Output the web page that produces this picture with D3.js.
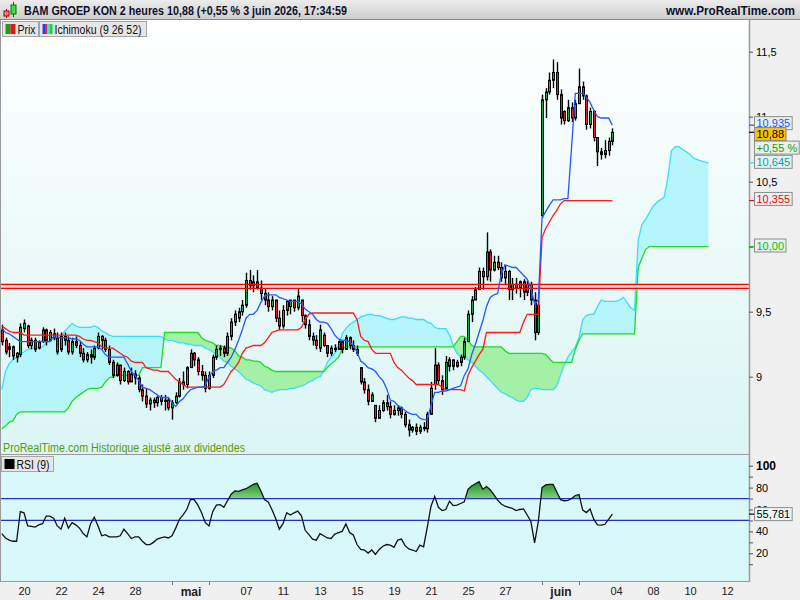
<!DOCTYPE html>
<html><head><meta charset="utf-8">
<script src="https://cdn.jsdelivr.net/npm/d3@7"></script>
<style>
html,body{margin:0;padding:0;background:#fff;}
svg{display:block;font-family:"Liberation Sans",Arial,sans-serif;}
</style></head><body>
<svg id="c" width="800" height="600"></svg>
<script>
// ---------- DATA ----------
const firstBar = -6;           // bar index (2h bars, 5 per day) of first bar, 0 = 20 April first bar
const opens = [
9.36,9.28,9.21,9.23,9.15,9.17,9.37,9.39,9.24,9.28,
9.22,9.27,9.36,9.28,9.33,9.30,9.21,9.31,9.28,9.19,
9.27,9.24,9.18,9.13,9.17,9.15,9.22,9.31,9.28,9.21,
9.11,9.01,9.09,8.97,9.04,8.96,9.02,8.99,8.90,8.85,
8.79,8.82,8.80,8.84,8.81,8.82,8.76,8.80,8.85,8.96,
8.94,9.07,9.18,9.13,9.04,9.01,8.91,9.01,9.15,9.21,
9.22,9.18,9.31,9.42,9.45,9.50,9.55,9.74,9.70,9.73,
9.68,9.64,9.59,9.54,9.59,9.45,9.39,9.51,9.54,9.59,
9.53,9.59,9.47,9.40,9.31,9.28,9.22,9.32,9.24,9.18,
9.22,9.21,9.27,9.21,9.30,9.24,9.21,9.07,8.96,8.90,
8.81,8.78,8.68,8.74,8.80,8.77,8.71,8.74,8.76,8.71,
8.63,8.59,8.61,8.58,8.61,8.60,8.71,8.94,9.09,8.97,
8.91,9.08,9.13,9.08,9.11,9.15,9.27,9.48,9.59,9.67,
9.81,9.77,9.96,9.82,9.88,9.84,9.76,9.81,9.67,9.71,
9.68,9.73,9.65,9.71,9.59,9.34,10.24,11.13,11.19,11.28,
11.34,11.17,11.04,10.97,11.07,10.99,11.10,11.23,11.16,10.94,
11.04,10.84,10.73,10.71,10.74,10.81];
const highs = [
9.40,9.30,9.26,9.24,9.19,9.41,9.44,9.40,9.30,9.30,
9.28,9.38,9.37,9.36,9.37,9.34,9.34,9.34,9.31,9.30,
9.31,9.27,9.22,9.19,9.21,9.24,9.34,9.32,9.30,9.24,
9.13,9.11,9.09,9.07,9.05,9.07,9.05,9.01,8.94,8.91,
8.84,8.84,8.85,8.86,8.86,8.84,8.82,8.88,8.99,9.04,
9.08,9.21,9.19,9.15,9.09,9.04,9.04,9.17,9.24,9.24,
9.24,9.34,9.45,9.51,9.53,9.59,9.80,9.82,9.78,9.82,
9.74,9.68,9.65,9.62,9.59,9.51,9.55,9.59,9.59,9.59,
9.68,9.59,9.48,9.44,9.34,9.32,9.40,9.34,9.24,9.24,
9.25,9.28,9.27,9.32,9.31,9.28,9.24,9.07,8.99,8.94,
8.88,8.78,8.78,8.82,8.86,8.81,8.78,8.78,8.77,8.73,
8.67,8.62,8.64,8.63,8.65,8.73,8.96,9.22,9.11,9.01,
9.16,9.15,9.13,9.13,9.17,9.30,9.51,9.62,9.69,9.84,
9.84,10.11,9.98,9.93,9.93,9.88,9.86,9.82,9.76,9.76,
9.74,9.75,9.74,9.73,9.65,9.59,11.17,11.22,11.34,11.44,
11.42,11.21,11.05,11.13,11.11,11.13,11.37,11.27,11.17,11.07,
11.05,10.84,10.76,10.82,10.84,10.91];
const lows = [
9.24,9.17,9.15,9.13,9.11,9.15,9.34,9.22,9.21,9.19,
9.21,9.26,9.24,9.27,9.28,9.17,9.19,9.24,9.17,9.17,
9.22,9.15,9.11,9.11,9.10,9.13,9.21,9.21,9.19,9.09,
8.99,9.00,8.94,8.96,8.94,8.96,8.94,8.88,8.81,8.76,
8.74,8.76,8.77,8.78,8.74,8.74,8.67,8.79,8.84,8.90,
8.91,9.07,9.08,9.01,8.97,8.88,8.90,8.99,9.13,9.16,
9.15,9.16,9.28,9.39,9.42,9.47,9.53,9.67,9.65,9.67,
9.59,9.55,9.50,9.51,9.42,9.36,9.37,9.47,9.48,9.50,
9.51,9.42,9.37,9.28,9.24,9.21,9.19,9.23,9.15,9.16,
9.19,9.21,9.18,9.21,9.21,9.19,9.16,8.94,8.87,8.78,
8.81,8.65,8.68,8.73,8.74,8.68,8.70,8.70,8.68,8.61,
8.54,8.57,8.55,8.56,8.58,8.57,8.71,8.90,8.94,8.86,
8.90,9.04,9.05,9.07,9.08,9.13,9.27,9.42,9.59,9.67,
9.67,9.74,9.73,9.81,9.82,9.73,9.71,9.59,9.59,9.64,
9.61,9.59,9.62,9.55,9.28,9.32,10.22,10.99,11.17,11.22,
11.13,10.94,10.94,10.96,10.96,10.97,11.10,11.13,10.90,10.91,
10.81,10.62,10.67,10.68,10.70,10.78];
const closes = [
9.27,9.19,9.23,9.16,9.18,9.38,9.41,9.24,9.28,9.21,
9.27,9.36,9.28,9.34,9.30,9.19,9.31,9.28,9.19,9.27,
9.24,9.18,9.13,9.17,9.15,9.22,9.31,9.28,9.21,9.11,
9.01,9.09,8.97,9.04,8.96,9.02,8.99,8.90,8.85,8.79,
8.82,8.80,8.84,8.81,8.82,8.76,8.80,8.85,8.96,8.94,
9.07,9.18,9.13,9.04,9.01,8.91,9.01,9.15,9.21,9.22,
9.18,9.31,9.42,9.48,9.50,9.55,9.74,9.70,9.73,9.68,
9.64,9.59,9.54,9.59,9.45,9.39,9.51,9.58,9.59,9.53,
9.62,9.47,9.40,9.31,9.28,9.24,9.36,9.24,9.18,9.22,
9.21,9.27,9.21,9.30,9.24,9.21,9.18,8.96,8.90,8.81,
8.86,8.68,8.74,8.80,8.77,8.71,8.74,8.76,8.71,8.63,
8.59,8.61,8.58,8.61,8.60,8.71,8.91,9.09,8.97,8.90,
9.11,9.13,9.08,9.11,9.15,9.27,9.48,9.59,9.67,9.81,
9.77,9.96,9.82,9.88,9.84,9.76,9.81,9.67,9.71,9.68,
9.73,9.65,9.71,9.59,9.34,9.55,11.13,11.19,11.28,11.34,
11.17,10.99,10.97,11.07,10.99,11.10,11.23,11.16,10.94,11.04,
10.84,10.73,10.71,10.74,10.81,10.88];
const tenkan = [
9.37,9.34,9.33,9.31,9.29,9.27,9.27,9.27,9.27,9.27,
9.27,9.27,9.27,9.27,9.31,9.30,9.30,9.30,9.30,9.29,
9.29,9.28,9.25,9.23,9.23,9.23,9.23,9.21,9.17,9.15,
9.15,9.15,9.15,9.15,9.10,9.04,9.01,8.97,8.92,8.91,
8.90,8.88,8.86,8.84,8.84,8.84,8.80,8.77,8.81,8.83,
8.87,8.90,8.91,8.92,8.92,8.93,9.00,9.04,9.05,9.07,
9.07,9.11,9.15,9.21,9.28,9.36,9.45,9.48,9.48,9.51,
9.57,9.62,9.63,9.63,9.63,9.61,9.60,9.59,9.58,9.58,
9.58,9.56,9.52,9.50,9.48,9.44,9.42,9.42,9.41,9.37,
9.32,9.29,9.28,9.28,9.27,9.24,9.19,9.12,9.10,9.07,
9.06,9.04,9.00,8.97,8.91,8.82,8.81,8.78,8.76,8.74,
8.72,8.71,8.71,8.68,8.67,8.67,8.78,8.88,8.88,8.89,
8.89,8.90,8.91,8.92,8.93,9.01,9.06,9.17,9.25,9.34,
9.43,9.54,9.61,9.63,9.64,9.79,9.86,9.85,9.84,9.84,
9.81,9.78,9.75,9.68,9.56,9.59,10.22,10.27,10.32,10.36,
10.36,10.36,10.37,10.37,10.77,11.18,11.18,11.18,11.15,11.11,
11.05,11.00,10.99,10.99,10.99,10.935];
const kijun = [
9.39,9.37,9.35,9.34,9.34,9.34,9.32,9.32,9.32,9.32,
9.32,9.32,9.32,9.32,9.32,9.32,9.32,9.32,9.32,9.32,
9.32,9.31,9.29,9.28,9.28,9.27,9.26,9.23,9.22,9.22,
9.22,9.20,9.18,9.16,9.15,9.12,9.11,9.11,9.11,9.07,
9.06,9.05,9.05,9.04,9.04,9.04,9.01,8.98,8.96,8.94,
8.92,8.92,8.92,8.92,8.92,8.92,8.92,8.92,8.92,8.92,
8.94,8.99,9.04,9.07,9.11,9.18,9.22,9.23,9.24,9.24,
9.24,9.26,9.30,9.34,9.35,9.36,9.36,9.36,9.36,9.36,
9.36,9.38,9.44,9.48,9.49,9.49,9.49,9.49,9.49,9.49,
9.49,9.49,9.49,9.49,9.49,9.49,9.44,9.31,9.28,9.27,
9.21,9.18,9.18,9.18,9.18,9.18,9.11,9.07,9.05,9.02,
8.99,8.97,8.94,8.94,8.94,8.94,8.94,8.94,8.94,8.92,
8.90,8.90,8.90,8.90,8.90,8.89,9.01,9.07,9.12,9.17,
9.21,9.34,9.34,9.34,9.34,9.34,9.34,9.34,9.34,9.34,
9.34,9.42,9.48,9.48,9.48,9.48,10.07,10.14,10.19,10.24,
10.28,10.33,10.355,10.355,10.355,10.355,10.355,10.355,10.355,10.355,
10.355,10.355,10.355,10.355,10.355,10.355];
const spanA = [
8.90,9.04,9.10,9.13,9.15,9.18,9.19,9.21,9.22,9.22,
9.23,9.23,9.26,9.28,9.29,9.30,9.31,9.35,9.38,9.41,
9.39,9.38,9.38,9.38,9.38,9.39,9.38,9.35,9.34,9.32,
9.31,9.31,9.31,9.31,9.31,9.31,9.31,9.31,9.31,9.31,
9.31,9.31,9.31,9.31,9.29,9.28,9.28,9.27,9.26,9.26,
9.25,9.25,9.24,9.24,9.24,9.22,9.21,9.19,9.17,9.15,
9.12,9.11,9.08,9.06,9.04,9.01,8.98,8.97,8.95,8.94,
8.93,8.90,8.89,8.88,8.89,8.90,8.90,8.90,8.91,8.91,
8.92,8.93,8.94,8.96,8.97,8.99,9.00,9.04,9.11,9.15,
9.18,9.24,9.33,9.37,9.40,9.42,9.44,9.46,9.47,9.48,
9.48,9.47,9.47,9.46,9.45,9.44,9.44,9.45,9.46,9.46,
9.45,9.45,9.44,9.44,9.44,9.42,9.41,9.38,9.37,9.37,
9.37,9.32,9.24,9.18,9.15,9.15,9.13,9.11,9.08,9.05,
9.03,9.00,8.97,8.94,8.91,8.88,8.87,8.85,8.84,8.82,
8.81,8.81,8.84,8.90,8.91,8.91,8.90,8.90,8.90,8.90,
8.93,9.01,9.09,9.15,9.19,9.23,9.30,9.44,9.47,9.48,
9.48,9.54,9.59,9.58,9.58,9.58,9.58,9.59,9.61,9.57,
9.53,9.51,10.05,10.17,10.21,10.26,10.31,10.34,10.36,10.38,
10.53,10.74,10.77,10.77,10.75,10.73,10.71,10.68,10.67,10.66,
10.65,10.645];
const spanB = [
8.60,8.62,8.65,8.66,8.71,8.73,8.73,8.73,8.73,8.73,
8.73,8.73,8.73,8.73,8.73,8.73,8.73,8.73,8.76,8.81,
8.84,8.86,8.88,8.90,8.91,8.91,8.91,8.92,8.96,8.99,
9.00,9.01,9.01,9.01,9.01,9.01,9.01,9.01,9.07,9.07,
9.07,9.07,9.07,9.07,9.34,9.34,9.34,9.34,9.34,9.34,
9.34,9.34,9.34,9.34,9.30,9.28,9.27,9.26,9.24,9.24,
9.23,9.23,9.22,9.20,9.16,9.15,9.13,9.13,9.12,9.12,
9.11,9.08,9.07,9.05,9.04,9.04,9.04,9.04,9.04,9.04,
9.04,9.04,9.04,9.04,9.04,9.04,9.04,9.04,9.07,9.10,
9.12,9.15,9.21,9.23,9.23,9.23,9.23,9.23,9.23,9.23,
9.23,9.23,9.23,9.23,9.23,9.23,9.23,9.23,9.23,9.23,
9.23,9.23,9.23,9.23,9.23,9.23,9.23,9.23,9.23,9.23,
9.23,9.23,9.23,9.27,9.31,9.31,9.28,9.24,9.23,9.23,
9.23,9.23,9.23,9.23,9.23,9.23,9.20,9.18,9.18,9.18,
9.18,9.18,9.18,9.18,9.18,9.18,9.18,9.17,9.14,9.11,
9.11,9.11,9.11,9.11,9.11,9.21,9.28,9.33,9.33,9.33,
9.33,9.33,9.33,9.33,9.33,9.33,9.33,9.33,9.33,9.33,
9.33,9.33,9.84,9.91,9.98,10.00,10.00,10.00,10.00,10.00,
10.00,10.00,10.00,10.00,10.00,10.00,10.00,10.00,10.00,10.00,
10.00,10.00];
const rsi = [
38,34,32,31,31,58,57,45,44.5,44,
46,47,54,54,52,45,42,52,43,48,
46,43,38,35,47,53,45,36,37,35,
35,35,36,42,38,33.5,35,35,31,28,
28,30,33,34,35,34,36,43,51,55,
60,69,69,64,57,48,45,58,64,64.5,
62,68,74,77,76.5,78,79,81,83,84,
77,69,67,60,52,42,47,57,55,57,
58.5,54,41,37,33,32,38,36,34,33.5,
37.5,38.8,40,47,39,36.7,28,23.5,23,20.2,
23,19,23.5,26.5,28,27.5,25.5,32,33,27,
24,23,21.6,27.5,26,44,63,72,62,59,
60,67.5,63.5,64,65.5,67,78.5,81.5,83.5,85.4,
78.5,81,78,73.5,68.5,65,63,62,61,59,
60,60.5,55,49,29.5,49,80,82.5,83,83,
76,69,68,68.3,70,72.8,73.7,59.5,57.2,60.5,
51,46,45.8,46.5,51,55.781];
const hLines = [9.71, 9.68];
const priceTicks = [9, 9.5, 10, 10.5, 11, 11.5];
const priceTickLabels = [9, 9.5, 10.5, 11, 11.5];   // 10 sits under the "10,00" value box
const rsiTicks = [10,20,30,40,50,60,70,80,90,100];
const rsiTickLabels = [20,40,60,80,100];
const rsiLevels = [70, 50];
const dayLabels = ["20","22","24","28","mai","07","11","13","15","19","21","25","27","juin","04","08","10","12"];
const dayIndex  = [0,2,4,6,9,12,14,16,18,20,22,24,26,29,32,34,36,38];
const minorDayIndex = [8,10,28,30];
const barsPerDay = 5;
const titleText = "BAM GROEP KON 2 heures 10,88 (+0,55 % 3 juin 2026, 17:34:59";
const pctText = "+0,55 %";

// ---------- SCALES ----------
const x = d3.scaleLinear().domain([0, 159]).range([24, 612.3]);
const y = d3.scaleLinear().domain([9, 11.5]).range([376.7, 51.7]);
const yR = d3.scaleLinear().domain([20, 100]).range([553.3, 465.7]);
const comma = s => s.replace('.', ',');

const svg = d3.select('#c');
const defs = svg.append('defs');
function vgrad(id, stops, attrs) {
  const g = defs.append('linearGradient').attr('id', id);
  Object.entries(attrs || {x1:0,y1:0,x2:0,y2:1}).forEach(([k,v]) => g.attr(k, v));
  stops.forEach(([o,c]) => g.append('stop').attr('offset', o).attr('stop-color', c));
}
vgrad('hdr', [['0%','#ececec'],['100%','#cdcdcd']]);
vgrad('bgMain', [['0%','#ffffff'],['100%','#dbf5f5']]);
vgrad('rsiFill', [['0%','#1c8a1c'],['100%','#7fd37f']],
      {gradientUnits:'userSpaceOnUse', x1:0, x2:0, y1:yR(86), y2:yR(70)});

// ---------- BACKGROUNDS ----------
svg.append('rect').attr('x',0).attr('y',0).attr('width',800).attr('height',19).attr('fill','url(#hdr)');
svg.append('line').attr('x1',0).attr('x2',800).attr('y1',19.5).attr('y2',19.5).attr('stroke','#8a8a8a');
svg.append('rect').attr('x',0).attr('y',20).attr('width',749).attr('height',434).attr('fill','url(#bgMain)');
svg.append('rect').attr('x',0).attr('y',455).attr('width',749).attr('height',126).attr('fill','#d8f8fa');
svg.append('rect').attr('x',749).attr('y',20).attr('width',51).attr('height',561).attr('fill','#f0f0f0');
svg.append('rect').attr('x',0).attr('y',581).attr('width',800).attr('height',19).attr('fill','#f0f0f0');

// ---------- CLIPS ----------
defs.append('clipPath').attr('id','clipMain').append('rect')
  .attr('x',1).attr('y',20).attr('width',748).attr('height',434);
defs.append('clipPath').attr('id','clipRsi').append('rect')
  .attr('x',1).attr('y',455).attr('width',748).attr('height',126);
const cloud = spanA.map((a,i) => ({k: i + firstBar, a: a, b: spanB[i]}));
defs.append('clipPath').attr('id','aboveB').append('path')
  .attr('d', d3.area().x(d => x(d.k)).y0(0).y1(d => y(d.b))(cloud));
defs.append('clipPath').attr('id','belowB').append('path')
  .attr('d', d3.area().x(d => x(d.k)).y0(d => y(d.b)).y1(600)(cloud));
defs.append('clipPath').attr('id','above70').append('rect')
  .attr('x',0).attr('y',455).attr('width',749).attr('height', yR(70) - 455);

// ---------- MAIN PANEL ----------
const main = svg.append('g').attr('clip-path','url(#clipMain)');
const cloudArea = d3.area().x(d => x(d.k)).y0(d => y(d.a)).y1(d => y(d.b));
main.append('g').attr('clip-path','url(#aboveB)').append('path')
  .attr('d', cloudArea(cloud)).attr('fill','#b6f5f9');
main.append('g').attr('clip-path','url(#belowB)').append('path')
  .attr('d', cloudArea(cloud)).attr('fill','#a3f0a6');
main.append('path').attr('d', d3.line().x(d => x(d.k)).y(d => y(d.a))(cloud))
  .attr('fill','none').attr('stroke','#3cdcff').attr('stroke-width',1.3);
main.append('path').attr('d', d3.line().x(d => x(d.k)).y(d => y(d.b))(cloud))
  .attr('fill','none').attr('stroke','#1fdc1f').attr('stroke-width',1.3);

// horizontal band
main.append('rect').attr('x',0).attr('width',749)
  .attr('y', y(d3.max(hLines))).attr('height', y(d3.min(hLines)) - y(d3.max(hLines)))
  .attr('fill','#f7cfcf').attr('opacity',0.85);

// candles
const bars = closes.map((c,i) => ({k: i + firstBar, o: opens[i], h: highs[i], l: lows[i], c: c}));
const cg = main.append('g');
cg.selectAll('line.w').data(bars).join('line').attr('class','w')
  .attr('x1', d => Math.round(x(d.k)) + 0.5).attr('x2', d => Math.round(x(d.k)) + 0.5)
  .attr('y1', d => y(d.h)).attr('y2', d => y(d.l))
  .attr('stroke','#000').attr('stroke-width',1.4);
cg.selectAll('rect.b').data(bars).join('rect').attr('class','b')
  .attr('x', d => Math.round(x(d.k)) - 0.5)
  .attr('width', 2)
  .attr('y', d => y(Math.max(d.o, d.c)))
  .attr('height', d => Math.max(1, Math.abs(y(d.o) - y(d.c))))
  .attr('fill', d => d.c >= d.o ? '#22a347' : '#e61e1e')
  .attr('stroke','#000').attr('stroke-width',1);

hLines.forEach(v => main.append('line').attr('x1',0).attr('x2',749)
  .attr('y1', y(v)).attr('y2', y(v)).attr('stroke','#ff0000').attr('stroke-width',1.3));

const lineK = d3.line().x(d => x(d[0])).y(d => y(d[1]));
main.append('path').attr('d', lineK(kijun.map((v,i) => [i + firstBar, v])))
  .attr('fill','none').attr('stroke','#ff1a1a').attr('stroke-width',1.3);
main.append('path').attr('d', lineK(tenkan.map((v,i) => [i + firstBar, v])))
  .attr('fill','none').attr('stroke','#2457ff').attr('stroke-width',1.3);

// footer note
svg.append('text').attr('x',3).attr('y',452).attr('font-size',12)
  .attr('fill','#5b9c08').attr('textLength',242).attr('lengthAdjust','spacingAndGlyphs')
  .text('ProRealTime.com  Historique ajusté aux dividendes');

// ---------- RSI PANEL ----------
const rsiPts = rsi.map((v,i) => ({k: i + firstBar, v: v}));
const rp = svg.append('g').attr('clip-path','url(#clipRsi)');
rp.append('g').attr('clip-path','url(#above70)').append('path')
  .attr('d', d3.area().x(d => x(d.k)).y0(yR(70)).y1(d => yR(d.v))(rsiPts))
  .attr('fill','url(#rsiFill)');
rsiLevels.forEach(v => rp.append('line').attr('x1',0).attr('x2',749)
  .attr('y1', yR(v)).attr('y2', yR(v)).attr('stroke','#2630c4').attr('stroke-width',1.3));
rp.append('path').attr('d', d3.line().x(d => x(d.k)).y(d => yR(d.v))(rsiPts))
  .attr('fill','none').attr('stroke','#111').attr('stroke-width',1.3);

// ---------- BORDERS ----------
svg.append('line').attr('x1',0).attr('x2',749).attr('y1',454.5).attr('y2',454.5).attr('stroke','#9a9a9a');
svg.append('line').attr('x1',0).attr('x2',749).attr('y1',581.5).attr('y2',581.5).attr('stroke','#9a9a9a');
svg.append('line').attr('x1',749.5).attr('x2',749.5).attr('y1',20).attr('y2',582).attr('stroke','#9a9a9a').attr('stroke-width',1.5);
svg.append('line').attr('x1',0.5).attr('x2',0.5).attr('y1',20).attr('y2',582).attr('stroke','#9a9a9a');

// ---------- AXES ----------
const fmtTick = d => priceTickLabels.includes(d) ? (Number.isInteger(d) ? String(d) : comma(String(d))) : '';
const ya = svg.append('g').attr('transform','translate(749,0)')
  .call(d3.axisRight(y).tickValues(priceTicks).tickSize(4).tickPadding(3).tickFormat(fmtTick));
ya.select('.domain').remove();
ya.selectAll('text').attr('font-size',11).attr('font-family','"Liberation Sans",Arial,sans-serif').attr('fill','#000');
ya.selectAll('line').attr('stroke','#555');

const ra = svg.append('g').attr('transform','translate(749,0)')
  .call(d3.axisRight(yR).tickValues(rsiTicks).tickSize(4).tickPadding(3)
    .tickFormat(d => rsiTickLabels.includes(d) ? String(d) : ''));
ra.select('.domain').remove();
ra.selectAll('text').attr('font-family','"Liberation Sans",Arial,sans-serif').attr('fill','#000')
  .attr('font-weight', d => d === 100 ? 'bold' : 'normal').attr('font-size', d => d === 100 ? 12 : 11);
ra.selectAll('line').attr('stroke','#555');

const xa = svg.append('g').attr('transform','translate(0,581)')
  .call(d3.axisBottom(x).tickValues(dayIndex.map(d => d * barsPerDay)).tickSize(0).tickPadding(6)
    .tickFormat((d,i) => dayLabels[i]));
xa.select('.domain').remove();
xa.selectAll('text').attr('font-family','"Liberation Sans",Arial,sans-serif').attr('fill','#222')
  .attr('font-weight', (d,i) => /[a-z]/.test(dayLabels[i]) ? 'bold' : 'normal')
  .attr('font-size', (d,i) => /[a-z]/.test(dayLabels[i]) ? 12 : 11);
const xm = svg.append('g').attr('transform','translate(0,581)')
  .call(d3.axisBottom(x).tickValues(minorDayIndex.map(d => d * barsPerDay)).tickSize(4).tickFormat(''));
xm.select('.domain').remove();
xm.selectAll('line').attr('stroke','#777');

// ---------- VALUE LABELS ----------
const f3 = v => comma(d3.format('.3f')(v));
const f2 = v => comma(d3.format('.2f')(v));
const lastClose = closes[closes.length - 1];
const valueLabels = [
  {t: f3(tenkan[tenkan.length-1]), v: tenkan[tenkan.length-1], c:'#1f4cff', bg:'#e6f1f1', dy:-2},
  {t: f2(lastClose), v: lastClose, c:'#000', bg:'#f7c300', dy:1.7, tick:'#000'},
  {t: pctText, v: lastClose, c:'#3b8f00', bg:'#e6f1f1', dy:15.3, noTick:true},
  {t: f3(spanA[spanA.length-1]), v: spanA[spanA.length-1], c:'#00a5a5', bg:'#e6f1f1', dy:-1, tick:'#33d6ee'},
  {t: f3(kijun[kijun.length-1]), v: kijun[kijun.length-1], c:'#ff0000', bg:'#e6f1f1', dy:-1.6},
  {t: f2(spanB[spanB.length-1]), v: spanB[spanB.length-1], c:'#00c400', bg:'#e6f1f1', dy:-1.2}
];
function valueLabel(l, ys) {
  if (!l.noTick) svg.append('line').attr('x1',749).attr('x2',754).attr('y1',ys).attr('y2',ys)
    .attr('stroke', l.tick || l.c).attr('stroke-width',1.2);
  const g = svg.append('g');
  const r = g.append('rect').attr('x',754.5).attr('y', ys + l.dy - 6.5).attr('height',13)
    .attr('fill', l.bg).attr('stroke','#8c8c8c');
  const t = g.append('text').attr('x',756.5).attr('y', ys + l.dy + 4).attr('font-size',11)
    .attr('fill', l.c).text(l.t);
  r.attr('width', t.node().getComputedTextLength() + 4);
}
valueLabels.forEach(l => valueLabel(l, y(l.v)));
valueLabel({t: f3(rsi[rsi.length-1]), c:'#000', bg:'#eef8f8', dy:0, tick:'#000'}, yR(rsi[rsi.length-1]));

// ---------- HEADER & LEGENDS ----------
const hi = svg.append('g');
hi.append('line').attr('x1',6.5).attr('x2',6.5).attr('y1',9).attr('y2',18).attr('stroke','#800');
hi.append('rect').attr('x',4).attr('y',11).attr('width',5).attr('height',5).attr('fill','#ff7a7a').attr('stroke','#a00');
hi.append('line').attr('x1',13.5).attr('x2',13.5).attr('y1',2).attr('y2',17).attr('stroke','#060');
hi.append('rect').attr('x',11).attr('y',5).attr('width',5).attr('height',9).attr('fill','#3de03d').attr('stroke','#070');
svg.append('text').attr('x',24).attr('y',14.5).attr('font-size',12).attr('font-weight','bold')
  .attr('fill','#10102a').attr('textLength',323).attr('lengthAdjust','spacingAndGlyphs').text(titleText);
svg.append('text').attr('x',666).attr('y',14.5).attr('font-size',12).attr('font-weight','bold')
  .attr('fill','#10102a').attr('textLength',129).attr('lengthAdjust','spacingAndGlyphs').text('www.ProRealTime.com');

function legendBox(x0, w, y0, label, tl, colors) {
  svg.append('rect').attr('x',x0+0.5).attr('y',y0+0.5).attr('width',w).attr('height',15)
    .attr('fill','#e6e6e6').attr('stroke','#a6a6a6');
  const sw = 10 / colors.length;
  colors.forEach((c,i) => svg.append('rect').attr('x', x0 + 3.5 + i*sw).attr('y', y0 + 3)
    .attr('width', sw).attr('height', 10).attr('fill', c));
  svg.append('text').attr('x', x0 + 15.5).attr('y', y0 + 12.5).attr('font-size',12)
    .attr('fill','#111').attr('textLength', tl).attr('lengthAdjust','spacingAndGlyphs').text(label);
}
legendBox(2, 36, 21, 'Prix', 18, ['#18a018','#e01818']);
legendBox(39, 107, 21, 'Ichimoku (9 26 52)', 87, ['#2040ff','#ff2020','#30e0ff','#20d820']);
legendBox(1, 52, 456, 'RSI (9)', 33, ['#000']);
</script>
</body></html>
